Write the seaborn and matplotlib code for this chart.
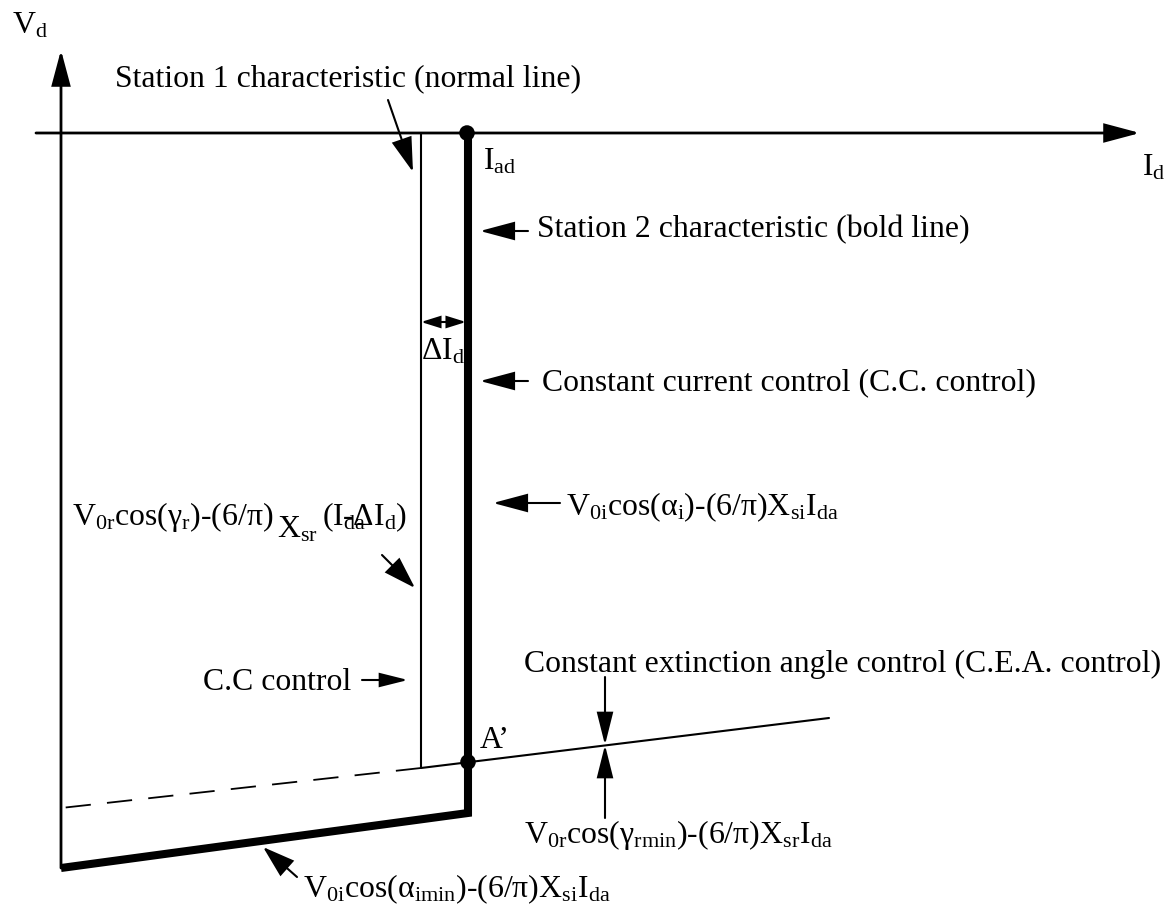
import matplotlib
matplotlib.use("Agg")
import matplotlib.pyplot as plt
import seaborn as sns

# ---- diagram data (pixel-like frame: I_d grows to the right, V_d grows upward = smaller y) ----
# Station 2 characteristic (bold): inverter alpha_imin section, then constant-current vertical
st2_id = [61, 468, 468]
st2_vd = [868, 813, 133]
# Station 1 characteristic (normal): CEA line, then constant-current vertical
st1_id = [829, 421, 421]
st1_vd = [718, 768, 133]
# Dashed extension of the CEA line
ext_id = [421, 61]
ext_vd = [768, 808]
# Marked operating points: I_ad and A'
pts_id = [467, 468]
pts_vd = [133, 762]
pt_labels = ["I$_\\mathrm{ad}$", "A’"]

sns.set_style("white")
plt.rcParams["font.family"] = ["Liberation Serif", "DejaVu Serif"]
plt.rcParams["mathtext.fontset"] = "custom"
plt.rcParams["mathtext.rm"] = "Liberation Serif"
plt.rcParams["mathtext.it"] = "Liberation Serif:italic"
plt.rcParams["mathtext.bf"] = "Liberation Serif:bold"

fig = plt.figure(figsize=(11.75, 9.11), dpi=100)
ax = fig.add_axes([0, 0, 1, 1])
ax.set_xlim(0, 1175)
ax.set_ylim(911, 0)
ax.axis("off")

FS = 22.9
PX = 0.72  # px -> pt at 100 dpi


def arrow(tail, tip, hl=30, hw=8, lw=1.5, style="-|>"):
    ax.annotate("", xy=tip, xytext=tail,
                arrowprops=dict(arrowstyle=f"{style},head_length={hl*PX},head_width={hw*PX}",
                                mutation_scale=1, lw=lw, color="black",
                                shrinkA=0, shrinkB=0, joinstyle="miter"))


def T(x, y, s):
    return ax.text(x, y, s, fontsize=FS, ha="left", va="baseline", color="black")


# axes
arrow((36, 133), (1140, 133), hl=30, hw=8, lw=2.0)
arrow((61, 868), (61, 50), hl=30, hw=8, lw=2.0)

# characteristics
sns.lineplot(x=ext_id, y=ext_vd, sort=False, estimator=None, ax=ax, color="black",
             lw=1.3, linestyle=(0, (14, 9)))
sns.lineplot(x=st1_id, y=st1_vd, sort=False, estimator=None, ax=ax, color="black", lw=1.5)
line2 = sns.lineplot(x=st2_id, y=st2_vd, sort=False, estimator=None, ax=ax, color="black", lw=5.8)
line2.lines[-1].set_solid_joinstyle("miter")
line2.lines[-1].set_solid_capstyle("butt")
sns.scatterplot(x=pts_id, y=pts_vd, ax=ax, color="black", s=125, zorder=5, edgecolor="none")

# delta I_d dimension
arrow((421, 322), (466, 322), hl=16, hw=5, lw=1.5, style="<|-|>")

# annotation arrows
arrow((388, 100), (413, 172), hl=30, hw=9)
arrow((528, 231), (480, 231), hl=30, hw=8)
arrow((528, 381), (480, 381), hl=30, hw=8)
arrow((560, 503), (493, 503), hl=30, hw=8)
arrow((382, 555), (415, 588), hl=28, hw=9)
arrow((362, 680), (408, 680), hl=24, hw=6)
arrow((605, 677), (605, 745), hl=28, hw=7)
arrow((605, 818), (605, 745), hl=28, hw=7)
arrow((297, 877), (263, 847), hl=28, hw=9)

# texts
T(12, 33, "V$_\\mathrm{d}$")
T(1142, 175, "I$_\\mathrm{d}$")
T(115, 86, "Station 1 characteristic (normal line)")
T(483, 170, pt_labels[0])
T(537, 237, "Station 2 characteristic (bold line)")
T(421, 359, "ΔI$_\\mathrm{d}$")
T(542, 390, "Constant current control (C.C. control)")
T(566, 515, "V$_\\mathrm{0i}$cos(α$_\\mathrm{i}$)-(6/π)X$_\\mathrm{si}$I$_\\mathrm{da}$")

# left label made of three pieces: main, lowered X_sr, bracket
fig.canvas.draw()
r = fig.canvas.get_renderer()
inv = ax.transData.inverted()
t1 = T(72, 525, "V$_\\mathrm{0r}$cos(γ$_\\mathrm{r}$)-(6/π)")
x1 = inv.transform((t1.get_window_extent(r).x1, 0))[0]
t2 = T(x1 + 4, 537, "X$_\\mathrm{sr}$")
x2 = inv.transform((t2.get_window_extent(r).x1, 0))[0]
T(x2 + 4, 525, "(I$_\\mathrm{da}\\!\\!\\!\\!\\!\\!$-ΔI$_\\mathrm{d}$)")

T(203, 690, "C.C control")
T(480, 748, pt_labels[1])
T(524, 672, "Constant extinction angle control (C.E.A. control)")
T(524, 843, "V$_\\mathrm{0r}$cos(γ$_\\mathrm{rmin}$)-(6/π)X$_\\mathrm{sr}$I$_\\mathrm{da}$")
T(303, 897, "V$_\\mathrm{0i}$cos(α$_\\mathrm{imin}$)-(6/π)X$_\\mathrm{si}$I$_\\mathrm{da}$")

fig.savefig("out.png", dpi=100, facecolor="white")
